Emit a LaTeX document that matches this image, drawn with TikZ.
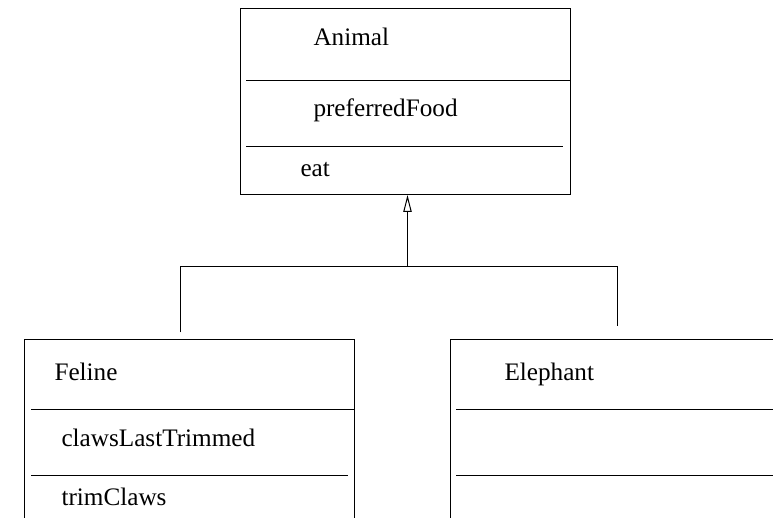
\documentclass[tikz,border=0pt]{standalone}
\usepackage{fontspec}
\setmainfont{Liberation Serif}
\usetikzlibrary{arrows.meta}
\begin{document}
\begin{tikzpicture}[x=0.5pt,y=-0.5pt,line width=0.5pt,
  classbox/.style={draw,rectangle,inner sep=0pt,outer sep=0pt,anchor=north west,minimum width=165pt},
  lbl/.style={anchor=base west,inner sep=0pt,font=\fontsize{12.6}{14}\selectfont},
  gen/.style={-{Triangle[open,length=8.5pt,width=4.2pt]}}]
\useasboundingbox (0,0) rectangle (773,518);
\clip (0,0) rectangle (773,518);
% Animal
\node[classbox,minimum height=93pt] (animal) at (240,9) {};
\draw (246,81) -- (570,81);
\draw (246,147) -- (563,147);
\node[lbl] (animalname) at (313,46) {Animal};
\node[lbl] (animalattr) at (313,117) {preferredFood};
\node[lbl] (animalop) at (300,177) {eat};
% Feline
\node[classbox,minimum height=115pt] (feline) at (24.5,339.5) {};
\draw (31,410) -- (354,410);
\draw (31,476) -- (347.5,476);
\node[lbl] (felinename) at (54,380.5) {Feline};
\node[lbl] (felineattr) at (61,446.5) {clawsLastTrimmed};
\node[lbl] (felineop) at (61,506) {trimClaws};
% Elephant
\node[classbox,minimum height=115pt] (elephant) at (450,339.5) {};
\draw (456,410) -- (790,410);
\draw (456,476) -- (790,476);
\node[lbl] (elephantname) at (504,380.5) {Elephant};
% generalization
\coordinate (j) at (407.5,267);
\coordinate (jl) at (180,267);
\coordinate (jr) at (617.5,267);
\coordinate (fl) at (180,332.5);
\coordinate (er) at (617.5,326.5);
\draw (fl) -- (jl) -- (jr) -- (er);
\draw[gen] (j) -- (animal.south -| j);
\end{tikzpicture}
\end{document}
